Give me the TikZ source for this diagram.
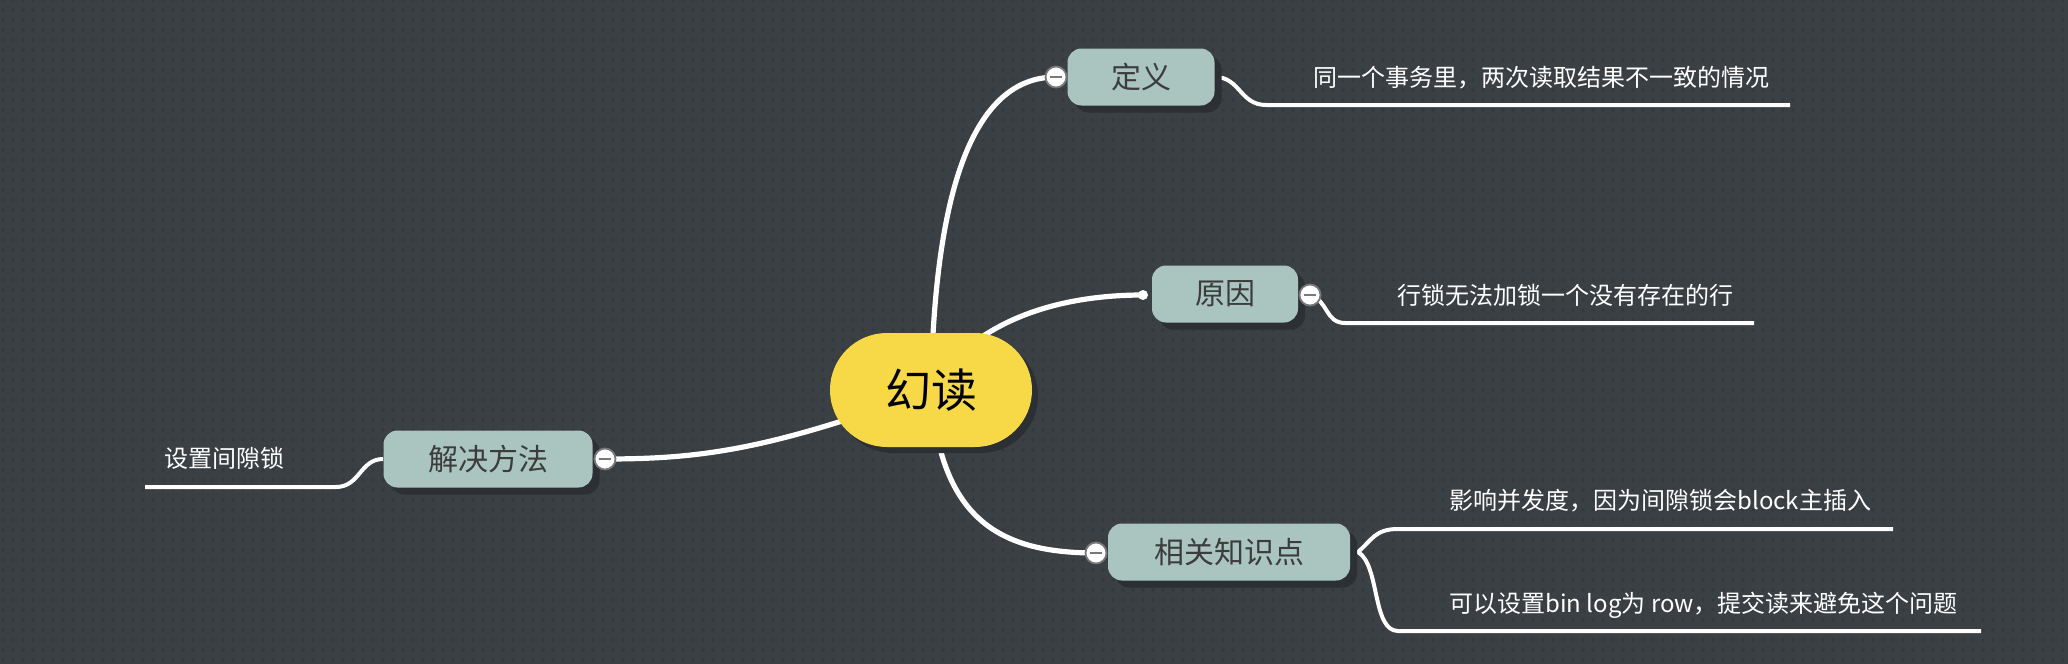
\documentclass[tikz,border=0pt]{standalone}
\usepackage{fontspec}
\newfontfamily\cjk{Noto Sans CJK SC}
\usetikzlibrary{shapes.misc,shadows,backgrounds,patterns.meta}
\definecolor{bgcol}{RGB}{59,64,69}
\definecolor{dotcol}{RGB}{52,56,60}
\definecolor{nodefill}{RGB}{170,197,192}
\definecolor{nodetext}{RGB}{60,60,60}
\definecolor{shadowcol}{RGB}{44,48,52}
\definecolor{centralfill}{RGB}{247,217,72}
\definecolor{collgray}{RGB}{120,120,120}
\tikzdeclarepattern{name=bgdots, type=uncolored,
  bottom left={(0pt,0pt)}, top right={(5pt,5pt)}, tile size={(5pt,5pt)},
  code={\fill (1.5pt,1.5pt) rectangle (3pt,3pt);}}
\tikzset{
  branch/.style={rounded corners=7pt, fill=nodefill, text=nodetext,
    font=\cjk\fontsize{15pt}{18pt}\selectfont, minimum height=28.5pt, inner sep=0pt,
    drop shadow={shadow xshift=3.5pt, shadow yshift=-3.5pt, opacity=1, fill=shadowcol}},
  central/.style={rounded rectangle, fill=centralfill, text=black,
    font=\cjk\fontsize{23pt}{27pt}\selectfont, minimum width=101pt, minimum height=57pt, inner sep=0pt,
    drop shadow={shadow xshift=3pt, shadow yshift=-3pt, opacity=1, fill=shadowcol}},
  coll/.style={circle, fill=white, draw=collgray, line width=0.9pt, minimum size=10.5pt, inner sep=0pt,
    path picture={\draw[collgray, line width=1pt]
      ([xshift=-3.2pt]path picture bounding box.center) -- ([xshift=3.2pt]path picture bounding box.center);}},
  enddot/.style={circle, fill=white, minimum size=5pt, inner sep=0pt},
  leaf/.style={text=white, font=\cjk\fontsize{12pt}{14pt}\selectfont, anchor=west, inner sep=0pt},
  conn/.style={draw=white, line width=2.6pt, line cap=round},
  leafline/.style={draw=white, line width=2pt},
}
\begin{document}
\begin{tikzpicture}[x=0.5pt,y=-0.5pt]
\begin{scope}[on background layer]
  \fill[bgcol] (0,0) rectangle (2068,664);
  \fill[pattern={bgdots}, pattern color=dotcol] (0,0) rectangle (2068,664);
\end{scope}
\useasboundingbox (0,0) rectangle (2068,664);

% nodes
\node[central] (c) at (931,390) {幻读};
\node[branch, minimum width=73.5pt] (def) at (1141,77) {定义};
\node[coll] (defc) at (1056,77) {};
\node[branch, minimum width=73pt] (why) at (1225,294) {原因};
\node[enddot] (whydot) at (1143,295) {};
\node[coll] (whyc) at (1310,295) {};
\node[branch, minimum width=104.5pt] (sol) at (488,459) {解决方法};
\node[coll] (solc) at (605,459) {};
\node[branch, minimum width=121pt] (rel) at (1229,552) {相关知识点};
\node[coll] (relc) at (1096,553) {};

% leaf texts
\node[leaf] (t1) at (1313,78) {同一个事务里，两次读取结果不一致的情况};
\node[leaf] (t2) at (1397,295) {行锁无法加锁一个没有存在的行};
\node[leaf] (t3) at (164,458) {设置间隙锁};
\node[leaf] (t4) at (1449,501) {影响并发度，因为间隙锁会block主插入};
\node[leaf] (t5) at (1449,605) {可以设置bin log为 row，提交读来避免这个问题};

% underline coordinates
\coordinate (d1a) at (1266,105); \coordinate (d1b) at (1790,105);
\coordinate (d2a) at (1345,323); \coordinate (d2b) at (1754,323);
\coordinate (d3a) at (336,487);  \coordinate (d3b) at (145,487);
\coordinate (d4a) at (1398,529); \coordinate (d4b) at (1893,529);
\coordinate (d5a) at (1398,631); \coordinate (d5b) at (1981,631);
\coordinate (relr) at (1358,552);

\begin{scope}[on background layer]
  \draw[conn] (c.center) .. controls (935,160) and (985,77) .. (defc.center);
  \draw[conn] (c.center) .. controls (970,325) and (1050,295) .. (whydot.center);
  \draw[conn] (c.center) .. controls (770,450) and (700,459) .. (solc.center);
  \draw[conn] (c.center) .. controls (940,520) and (1000,553) .. (relc.center);

  \draw[leafline] (def.east) .. controls (1240,77) and (1240,105) .. (d1a) -- (d1b);
  \draw[leafline] (whyc.center) .. controls (1328,300) and (1325,323) .. (d2a) -- (d2b);
  \draw[leafline] (sol.west) .. controls (360,459) and (360,487) .. (d3a) -- (d3b);
  \draw[leafline] (rel.east) -- (relr) .. controls (1372,540) and (1375,529) .. (d4a) -- (d4b);
  \draw[leafline] (relr) .. controls (1380,565) and (1372,631) .. (d5a) -- (d5b);
\end{scope}
\end{tikzpicture}
\end{document}
